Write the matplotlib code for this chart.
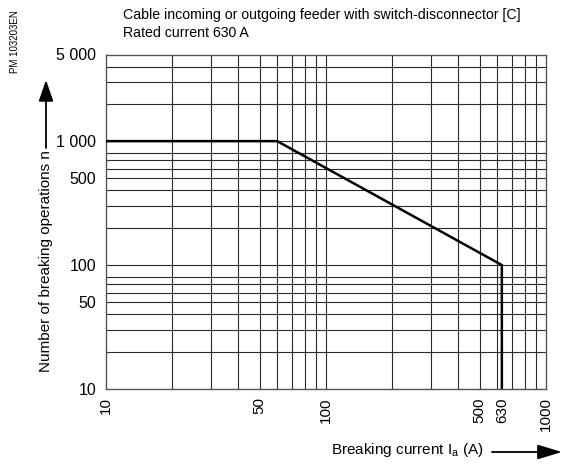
import matplotlib
matplotlib.use("Agg")
import matplotlib.pyplot as plt

plt.rcParams['font.family'] = ['Liberation Sans', 'DejaVu Sans']
plt.rcParams['mathtext.fontset'] = 'custom'
plt.rcParams['mathtext.rm'] = 'Liberation Sans'
plt.rcParams['mathtext.it'] = 'Liberation Sans:italic'

# courbe de durée de vie électrique : courant coupé (A) / nombre de manoeuvres
courant = [10, 60, 630, 630]
manoeuvres = [1000, 1000, 100, 10]

x_ticks = [10, 50, 100, 500, 630, 1000]
x_labels = ["10", "50", "100", "500", "630", "1000"]
y_ticks = [10, 50, 100, 500, 1000, 5000]
y_labels = ["10", "50", "100", "500", "1 000", "5 000"]

# quadrillage
x_grille = [20, 30, 40, 50, 60, 70, 80, 90, 100,
            200, 300, 400, 500, 600, 700, 800, 900]
y_grille = [20, 30, 40, 50, 60, 70, 80, 100,
            200, 300, 400, 500, 600, 700, 800, 1000,
            2000, 3000, 4000]

W, H = 563, 467
fig = plt.figure(figsize=(W / 100, H / 100), dpi=100)
ax = fig.add_axes([106 / W, 1 - 389 / H, 440 / W, (389 - 54.5) / H])

ax.set_xscale('log')
ax.set_yscale('log')
ax.set_xlim(10, 1000)
ax.set_ylim(10, 5000)

for xg in x_grille:
    ax.axvline(xg, c='#2a2a2a', lw=0.8, zorder=1)
for yg in y_grille:
    ax.axhline(yg, c='#2a2a2a', lw=0.8, zorder=1)

ax.plot(courant, manoeuvres, c='black', lw=1.8, solid_joinstyle='miter', zorder=3)

for s in ax.spines.values():
    s.set_color('#555555')
    s.set_linewidth(1.0)

ax.minorticks_off()
ax.set_xticks(x_ticks, x_labels, rotation=90)
ax.set_yticks(y_ticks, y_labels)
ax.tick_params(axis='both', length=0)
ax.tick_params(axis='x', pad=6, labelsize=11)
ax.tick_params(axis='y', pad=7, labelsize=11.5)

# titre
fig.text(123 / W, 1 - 15 / H, "Cable incoming or outgoing feeder with switch-disconnector [C]",
         fontsize=10.2, ha='left', va='center')
fig.text(123 / W, 1 - 33 / H, "Rated current 630 A",
         fontsize=10.2, ha='left', va='center')

fig.text(15 / W, 1 - 42 / H, "PM 103203EN", fontsize=7, rotation=90,
         ha='center', va='center')

# axe Y : libellé + flèche
fig.text(46 / W, 1 - 261 / H, "Number of breaking operations n", fontsize=11,
         rotation=90, ha='center', va='center')
fig.add_artist(matplotlib.patches.FancyArrowPatch(
    (46 / W, 1 - 148 / H), (46 / W, 1 - 80 / H), transform=fig.transFigure,
    arrowstyle='-|>,head_length=1.3,head_width=0.45', mutation_scale=10,
    color='black', lw=1.3, shrinkA=0, shrinkB=0))

# axe X : libellé + flèche
fig.text(331 / W, 1 - 450 / H, r"Breaking current I$_{\mathrm{a}}$ (A)", fontsize=11,
         ha='left', va='center')
fig.add_artist(matplotlib.patches.FancyArrowPatch(
    (492 / W, 1 - 452 / H), (562 / W, 1 - 452 / H), transform=fig.transFigure,
    arrowstyle='-|>,head_length=1.5,head_width=0.45', mutation_scale=10,
    color='black', lw=1.3, shrinkA=0, shrinkB=0))

fig.savefig('out.png', dpi=100)
